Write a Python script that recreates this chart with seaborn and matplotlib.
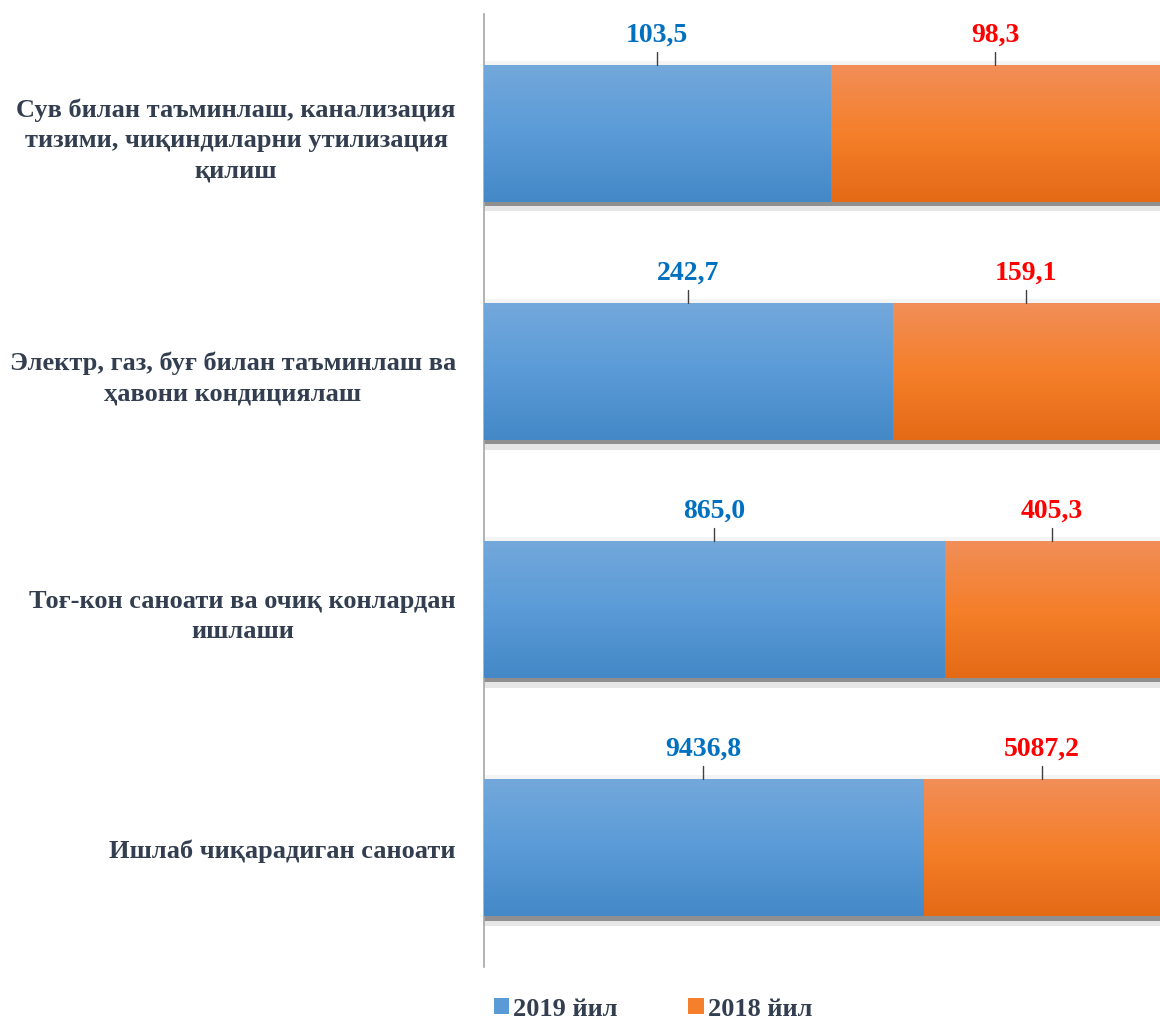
import numpy as np
import pandas as pd
import matplotlib
matplotlib.use("Agg")
import matplotlib.pyplot as plt
import seaborn as sns
from matplotlib.patches import Rectangle, Patch
from matplotlib.colors import LinearSegmentedColormap

# ---- data ----
categories = [
    "Сув билан таъминлаш, канализация\nтизими, чиқиндиларни утилизация\nқилиш",
    "Электр, газ, буғ билан таъминлаш ва\nҳавони кондициялаш",
    "Тоғ-кон саноати ва очиқ конлардан\nишлаши",
    "Ишлаб чиқарадиган саноати",
]
values_2019 = [103.5, 242.7, 865.0, 9436.8]
values_2018 = [98.3, 159.1, 405.3, 5087.2]
series = ["2019 йил", "2018 йил"]

# ---- style ----
sns.set_theme(style="white")
plt.rcParams["font.family"] = ["Liberation Serif", "DejaVu Serif"]
plt.rcParams["font.weight"] = "bold"

TXT = "#333F50"
BLUE_LBL = "#0070C0"
RED_LBL = "#FF0000"
blue_grad = LinearSegmentedColormap.from_list("b", ["#73A8DB", "#5A9BD7", "#4488C7"])
orange_grad = LinearSegmentedColormap.from_list("o", ["#F18E58", "#F57F2A", "#E46A16"])

df = pd.DataFrame({"cat": categories, "v19": values_2019, "v18": values_2018})
df["total"] = df["v19"] + df["v18"]
df["p19"] = df["v19"] / df["total"] * 100
df["p100"] = 100.0

fig = plt.figure(figsize=(11.6, 10.2), dpi=100)
ax = fig.add_axes([0.417, 0.051, 0.583, 0.934])

BAR_H = 0.575
sns.barplot(data=df, y="cat", x="p100", orient="h", color="#F57F2A",
            width=BAR_H, ax=ax, saturation=1, zorder=2)
n_or = len(ax.patches)
sns.barplot(data=df, y="cat", x="p19", orient="h", color="#5A9BD7",
            width=BAR_H, ax=ax, saturation=1, zorder=3)

patches = list(ax.patches)
orange_patches = patches[:n_or]
blue_patches = patches[n_or:]

grad = np.linspace(0, 1, 256).reshape(-1, 1)

def fill_gradient(p, cmap, z):
    x0, y0, w, h = p.get_x(), p.get_y(), p.get_width(), p.get_height()
    im = ax.imshow(grad, cmap=cmap, aspect="auto",
                   extent=[x0, x0 + w, y0 + h, y0], origin="upper",
                   zorder=z, interpolation="bicubic")
    im.set_clip_path(p)
    p.set_edgecolor("none")

for p in orange_patches:
    fill_gradient(p, orange_grad, 2.5)
    # shadow below bar
    x0, y0, w, h = p.get_x(), p.get_y(), p.get_width(), p.get_height()
    ax.add_patch(Rectangle((x0, y0 + h), w, 0.018, color="#8F8F8F", zorder=1.5, lw=0))
    ax.add_patch(Rectangle((x0, y0 + h + 0.018), w, 0.022, color="#E6E6E6", zorder=1.4, lw=0))
    ax.add_patch(Rectangle((x0, y0 - 0.018), w, 0.018, color="#F4F4F4", zorder=1.4, lw=0))
for p in blue_patches:
    fill_gradient(p, blue_grad, 3.5)

ax.set_xlim(0, 100)
ax.set_ylim(len(categories) - 0.5, -0.5)

# value labels with leader lines
for i, row in df.iterrows():
    top = i - BAR_H / 2
    segs = [(row["p19"] / 2, row["v19"], BLUE_LBL),
            ((row["p19"] + 100) / 2, row["v18"], RED_LBL)]
    for xc, v, col in segs:
        ax.plot([xc, xc], [top, top - 0.055], color="#404040", lw=1, zorder=4)
        ax.text(xc, top - 0.13, f"{v:.1f}".replace(".", ","), ha="center", va="center",
                fontsize=20, fontweight="bold", color=col, zorder=5)

ax.set_xlabel("")
ax.set_ylabel("")
ax.set_xticks([])
ax.tick_params(axis="y", length=0, pad=20)
for lbl in ax.get_yticklabels():
    lbl.set_fontsize(19)
    lbl.set_fontweight("bold")
    lbl.set_color(TXT)
    lbl.set_multialignment("center")
    lbl.set_linespacing(1.4)

for s in ["top", "right", "bottom"]:
    ax.spines[s].set_visible(False)
ax.spines["left"].set_color("#A6A6A6")
ax.spines["left"].set_linewidth(1.2)

handles = [Patch(facecolor="#5A9BD7", edgecolor="none", label=series[0]),
           Patch(facecolor="#F57F2A", edgecolor="none", label=series[1])]
leg = fig.legend(handles=handles, loc="center left", bbox_to_anchor=(0.405, 0.01),
                 ncol=2, frameon=False, handlelength=0.6, handleheight=0.6,
                 handletextpad=0.15, columnspacing=2.65,
                 prop={"size": 19, "weight": "bold"})
for t in leg.get_texts():
    t.set_color(TXT)

fig.savefig("out.png", dpi=100)
